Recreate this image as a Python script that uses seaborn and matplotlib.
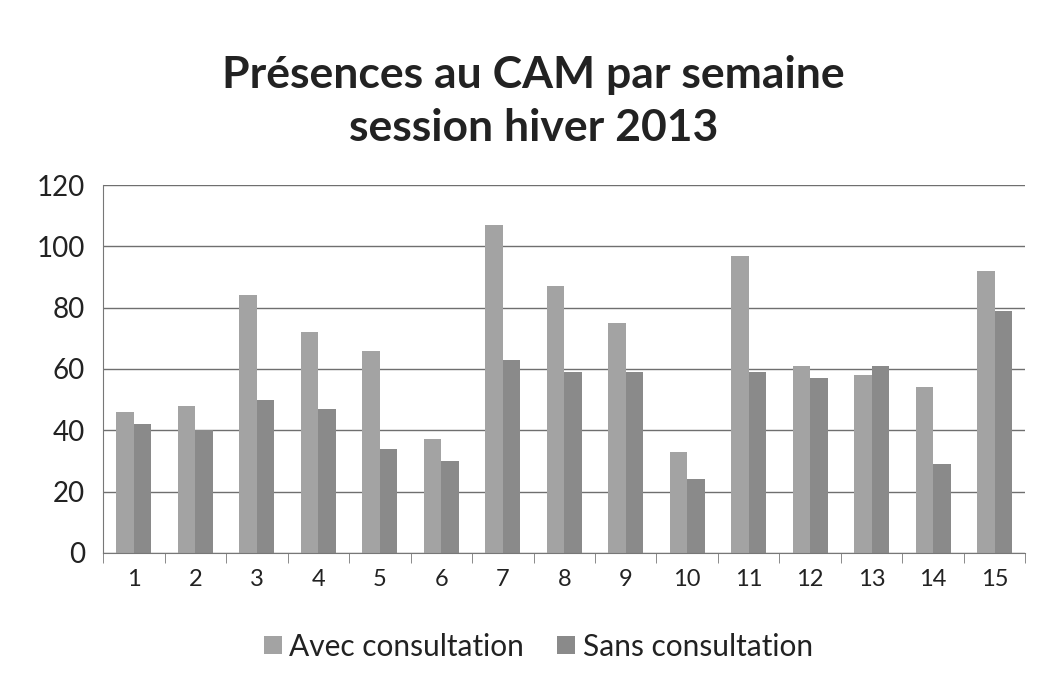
import seaborn as sns
import matplotlib.pyplot as plt
import pandas as pd
import numpy as np

# Présences au CAM, session hiver 2013
semaines = [str(i) for i in range(1, 16)]
avec_consultation = [46, 48, 84, 72, 66, 37, 107, 87, 75, 33, 97, 61, 58, 54, 92]
sans_consultation = [42, 40, 50, 47, 34, 30, 63, 59, 59, 24, 59, 57, 61, 29, 79]
series = ["Avec consultation", "Sans consultation"]
y_ticks = [0, 20, 40, 60, 80, 100, 120]


def createBarPlot():
    df = pd.DataFrame({
        "semaine": semaines * 2,
        "presences": avec_consultation + sans_consultation,
        "serie": [series[0]] * len(semaines) + [series[1]] * len(semaines),
    })

    sns.set_style("white")
    plt.rcParams['font.family'] = ['Lato', 'DejaVu Sans']

    fig = plt.figure(figsize=(10.42, 6.91), dpi=100)
    ax = fig.add_axes([0.099, 0.2, 0.885, 0.532])

    sns.barplot(data=df, x="semaine", y="presences", hue="serie",
                palette=["#a3a3a3", "#8a8a8a"], width=0.57, gap=0,
                saturation=1, linewidth=0, edgecolor="none", ax=ax, legend=True)

    ax.set_ylim(0, 120)
    ax.set_yticks(y_ticks)
    ax.set_xlim(-0.5, len(semaines) - 0.5)
    ax.yaxis.grid(True, color="#6f6f6f", linewidth=1)
    ax.set_axisbelow(True)
    ax.set_xlabel("")
    ax.set_ylabel("")

    for s in ["top", "right"]:
        ax.spines[s].set_visible(False)
    ax.spines["left"].set_color("#777777")
    ax.spines["bottom"].set_color("#777777")

    # Excel style: ticks between categories
    ax.set_xticks(np.arange(len(semaines) + 1) - 0.5, minor=True)
    ax.tick_params(axis="x", which="major", length=0, labelsize=17, pad=12, colors="#222222")
    ax.tick_params(axis="x", which="minor", length=7, color="#777777", direction="out", bottom=True)
    ax.tick_params(axis="y", length=7, color="#777777", labelsize=20, colors="#222222", pad=6)

    fig.text(0.512, 0.892, "Présences au CAM par semaine", ha="center", va="center",
             fontsize=32, fontweight="bold", color="#222222")
    fig.text(0.512, 0.815, "session hiver 2013", ha="center", va="center",
             fontsize=32, fontweight="bold", color="#222222")

    ax.legend(loc="center", bbox_to_anchor=(0.472, -0.255), ncol=2, frameon=False,
              fontsize=21.5, handlelength=0.6, handleheight=0.6, handletextpad=0.25,
              columnspacing=1.1, labelcolor="#222222")

    fig.savefig("out.png", dpi=100, facecolor="white")


if __name__ == '__main__':
    createBarPlot()
